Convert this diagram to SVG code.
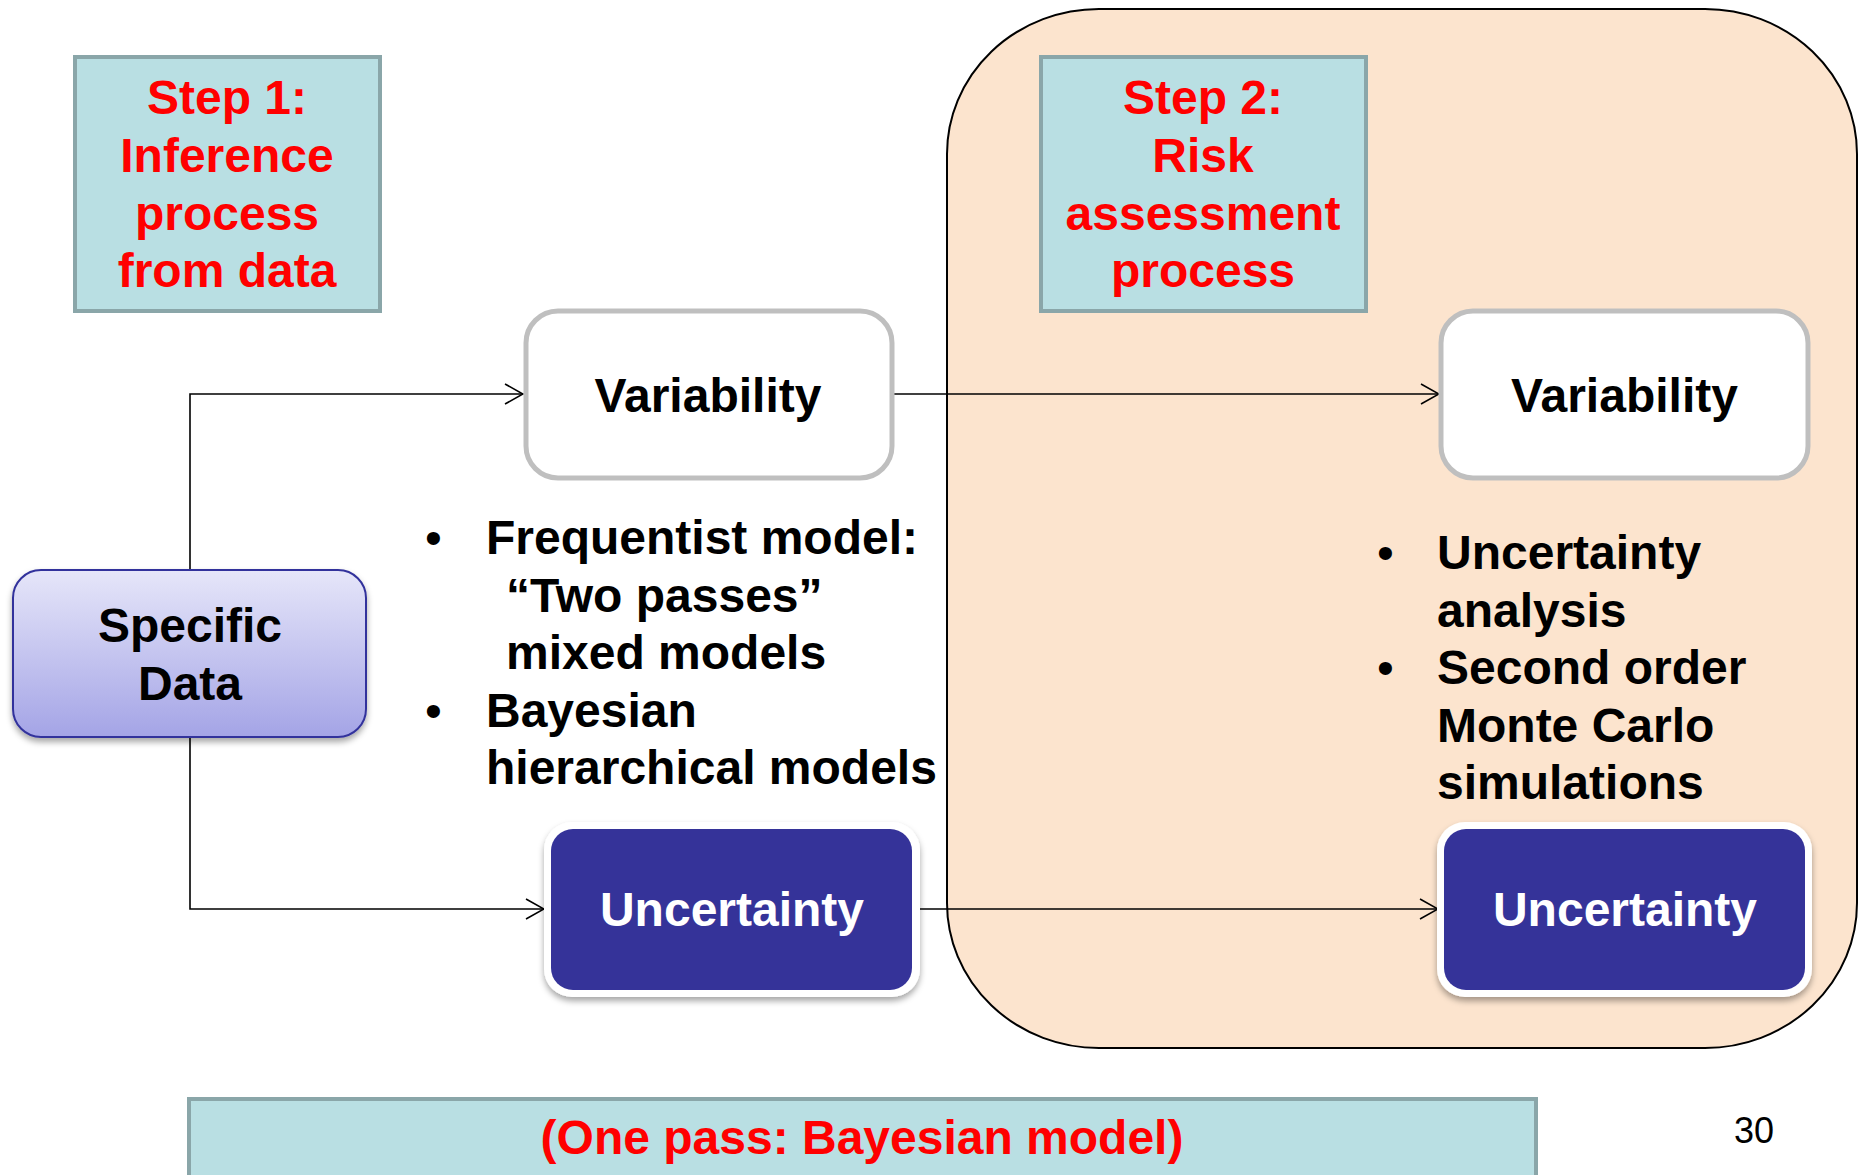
<svg xmlns="http://www.w3.org/2000/svg" width="1859" height="1175" viewBox="0 0 1859 1175">
  <style>
    text { font-family: "Liberation Sans", Arial, sans-serif; font-weight: bold; font-size: 48px; }
    .red { fill: #FF0000; }
    .blk { fill: #000000; }
    .wht { fill: #FFFFFF; }
    .mid { text-anchor: middle; }
    .step { fill: #B9DFE3; stroke: #8AA6A9; stroke-width: 4; }
    .var { fill: #FFFFFF; stroke: #BFBFBF; stroke-width: 5; }
    .conn { fill: none; stroke: #000000; stroke-width: 1.6; }
    .page { font-weight: normal; font-size: 36px; }
    .bul { font-weight: normal; }
  </style>
  <defs>
    <linearGradient id="lav" x1="0" y1="0" x2="0" y2="1">
      <stop offset="0" stop-color="#E6E6F9"/>
      <stop offset="1" stop-color="#A4A4E6"/>
    </linearGradient>
    <filter id="shadow" x="-10%" y="-10%" width="120%" height="130%">
      <feDropShadow dx="0" dy="4" stdDeviation="3" flood-color="#000000" flood-opacity="0.35"/>
    </filter>
    <marker id="arrow" viewBox="0 0 20 22" refX="19" refY="11" markerWidth="20" markerHeight="22" markerUnits="userSpaceOnUse" orient="auto">
      <path d="M1,1 L19,11 L1,21" fill="none" stroke="#000000" stroke-width="1.6"/>
    </marker>
  </defs>

  <rect width="1859" height="1175" fill="#FFFFFF"/>

  <g id="step2-container">
    <rect x="947" y="9" width="910" height="1039" rx="152" ry="145" fill="#FCE4CE" stroke="#000000" stroke-width="2"/>
  </g>

  <g id="connectors">
    <polyline class="conn" points="190,570 190,394 523,394" marker-end="url(#arrow)"/>
    <polyline class="conn" points="190,737 190,909 544,909" marker-end="url(#arrow)"/>
    <line class="conn" x1="894" y1="394" x2="1439" y2="394" marker-end="url(#arrow)"/>
    <line class="conn" x1="918" y1="909" x2="1438" y2="909" marker-end="url(#arrow)"/>
  </g>

  <g id="step1">
    <rect class="step" x="75" y="57" width="305" height="254"/>
    <text class="red mid" x="227" y="114">Step 1:</text>
    <text class="red mid" x="227" y="172">Inference</text>
    <text class="red mid" x="227" y="229.5">process</text>
    <text class="red mid" x="227" y="287">from data</text>
  </g>

  <g id="step2">
    <rect class="step" x="1041" y="57" width="325" height="254"/>
    <text class="red mid" x="1203" y="114">Step 2:</text>
    <text class="red mid" x="1203" y="172">Risk</text>
    <text class="red mid" x="1203" y="229.5">assessment</text>
    <text class="red mid" x="1203" y="287">process</text>
  </g>

  <g id="variability1">
    <rect class="var" x="526" y="311" width="366" height="167" rx="32"/>
    <text class="blk mid" x="708" y="412">Variability</text>
  </g>

  <g id="variability2">
    <rect class="var" x="1441" y="311" width="367" height="167" rx="32"/>
    <text class="blk mid" x="1624.5" y="412">Variability</text>
  </g>

  <g id="specific-data">
    <rect x="13" y="570" width="353" height="167" rx="28" fill="url(#lav)" stroke="#33339C" stroke-width="2" filter="url(#shadow)"/>
    <text class="blk mid" x="190" y="642">Specific</text>
    <text class="blk mid" x="190" y="700">Data</text>
  </g>

  <g id="uncertainty1">
    <rect x="544" y="822" width="376" height="175" rx="28" fill="#FFFFFF" filter="url(#shadow)"/>
    <rect x="551" y="829" width="361" height="161" rx="22" fill="#353399"/>
    <text class="wht mid" x="732" y="926">Uncertainty</text>
  </g>

  <g id="uncertainty2">
    <rect x="1437" y="822" width="375" height="175" rx="28" fill="#FFFFFF" filter="url(#shadow)"/>
    <rect x="1444" y="829" width="361" height="161" rx="22" fill="#353399"/>
    <text class="wht mid" x="1625" y="926">Uncertainty</text>
  </g>

  <g id="left-bullets">
    <text class="blk bul" x="425" y="554">•</text>
    <text class="blk" x="486" y="554">Frequentist model:</text>
    <text class="blk" x="506" y="611.5">“Two passes”</text>
    <text class="blk" x="506" y="669">mixed models</text>
    <text class="blk bul" x="425" y="726.5">•</text>
    <text class="blk" x="486" y="726.5">Bayesian</text>
    <text class="blk" x="486" y="784">hierarchical models</text>
  </g>

  <g id="right-bullets">
    <text class="blk bul" x="1377" y="569">•</text>
    <text class="blk" x="1437" y="569">Uncertainty</text>
    <text class="blk" x="1437" y="626.5">analysis</text>
    <text class="blk bul" x="1377" y="684">•</text>
    <text class="blk" x="1437" y="684">Second order</text>
    <text class="blk" x="1437" y="741.5">Monte Carlo</text>
    <text class="blk" x="1437" y="799">simulations</text>
  </g>

  <g id="one-pass">
    <rect class="step" x="189" y="1099" width="1347" height="100"/>
    <text class="red mid" x="862" y="1154">(One pass: Bayesian model)</text>
  </g>

  <g id="page-number">
    <text class="blk page" x="1734" y="1143">30</text>
  </g>
</svg>
